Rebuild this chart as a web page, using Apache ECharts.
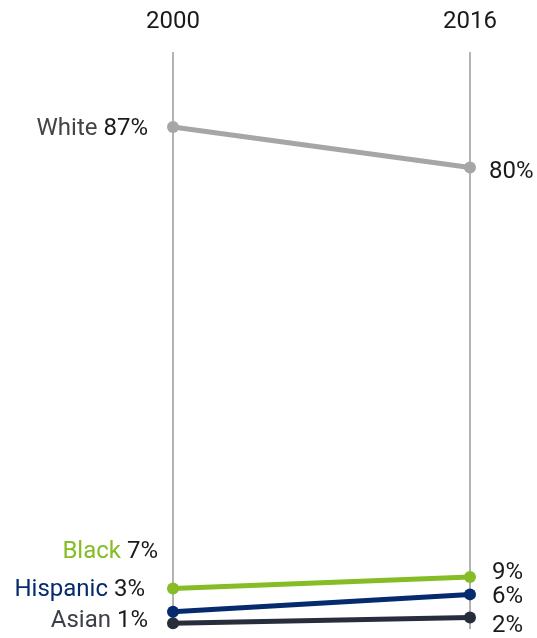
<!DOCTYPE html>
<html>
<head>
<meta charset="utf-8">
<script src="https://cdn.jsdelivr.net/npm/echarts@6/dist/echarts.min.js"></script>
<style>
  html, body { margin: 0; padding: 0; background: #fff; }
  #chart { width: 537px; height: 638px; }
</style>
</head>
<body>
<div id="chart"></div>
<script>
// Share of population by group, 2000 vs 2016 (%)
const years = ['2000', '2016'];
const groups = ['White', 'Black', 'Hispanic', 'Asian'];
const white = [87, 80];
const black = [7, 9];
const hispanic = [3, 6];
const asian = [1, 2];

const seriesValues = [white, black, hispanic, asian];
const colors = ['#a6a6a6', '#86bc25', '#062a6e', '#282d3c'];
const nameColors = ['#444444', '#86bc25', '#062a6e', '#3d3f48'];
// label nudges (px) so the stacked labels near the bottom do not collide
const leftOffsets = [[-1, 2], [9, -37], [-4, -22], [-1, -2]];
const rightOffsets = [[0, 5], [3, -4], [3, 3], [3, 9]];

const chart = echarts.init(document.getElementById('chart'));

const series = groups.map((g, i) => ({
  name: g,
  type: 'line',
  data: seriesValues[i].map((v, j) => ({
    value: v,
    label: j === 0
      ? {
          show: true,
          position: 'left',
          distance: 18,
          offset: leftOffsets[i],
          formatter: '{n|' + g + '} {v|' + v + '%}'
        }
      : {
          show: true,
          position: 'right',
          distance: 13,
          offset: rightOffsets[i],
          formatter: '{v|' + v + '%}'
        }
  })),
  symbol: 'circle',
  symbolSize: 12,
  lineStyle: { width: 5, color: colors[i] },
  itemStyle: { color: colors[i] },
  label: {
    fontFamily: 'Roboto',
    fontSize: 24,
    rich: {
      n: { fontFamily: 'Roboto', fontSize: 24, color: nameColors[i] },
      v: { fontFamily: 'Roboto', fontSize: 24, color: '#1a1a1a' }
    }
  },
  emphasis: { disabled: true },
  z: 10 - i
}));

chart.setOption({
  animation: false,
  grid: { left: 173, right: 67, top: 52, bottom: 9 },
  xAxis: {
    type: 'category',
    data: years,
    position: 'top',
    boundaryGap: false,
    axisLine: { show: false },
    axisTick: { show: false },
    axisLabel: {
      fontFamily: 'Roboto',
      fontSize: 24,
      color: '#1a1a1a',
      margin: 18
    },
    splitLine: { show: true, lineStyle: { color: '#b3b3b3', width: 2 } }
  },
  yAxis: {
    type: 'value',
    min: 0,
    max: 100,
    show: false
  },
  series: series
});
</script>
</body>
</html>
